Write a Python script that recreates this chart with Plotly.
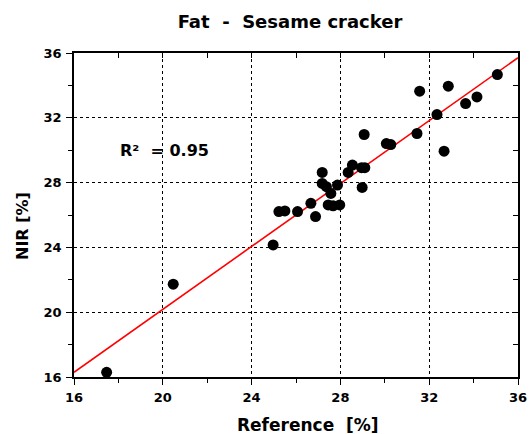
import plotly.graph_objects as go

reference = [17.47, 20.47, 24.97, 25.23, 25.50, 26.07, 26.67, 26.88, 27.18, 27.18,
             27.37, 27.57, 27.45, 27.67, 27.97, 27.87, 28.35, 28.54, 28.95, 29.10,
             28.98, 29.07, 30.07, 30.27, 31.45, 31.57, 32.35, 32.67, 32.86, 33.64,
             34.15, 35.07]
nir = [16.29, 21.73, 24.15, 26.21, 26.25, 26.21, 26.72, 25.90, 28.63, 27.95,
       27.75, 27.33, 26.62, 26.57, 26.62, 27.85, 28.63, 29.08, 28.92, 28.92,
       27.70, 30.97, 30.41, 30.35, 31.03, 33.64, 32.20, 29.94, 33.95, 32.88,
       33.29, 34.67]

fit_x = [16, 36]
fit_y = [16.29, 35.71]

title_text = "Fat\u00a0\u00a0-\u00a0\u00a0Sesame cracker"
x_title = "Reference\u00a0\u00a0[%]"
y_title = "NIR [%]"
r2_text = "R²\u00a0\u00a0= 0.95"
r2_pos = (18.0, 30.0)

axis_range = [16, 36]
major_step = 4
minor_step = 2

font_family = "DejaVu Sans, Verdana, sans-serif"
# body margin is removed by the post script, so the figure fills the window
W, H = 530, 434
ML, MR, MT, MB = 74, 12, 53, 57

def px_x(x):  # window pixel -> paper fraction (x)
    return (x - ML) / (W - ML - MR)

def px_y(y):  # window pixel -> paper fraction (y)
    return ((H - MB) - y) / (H - MT - MB)

fig = go.Figure()
fig.add_trace(go.Scatter(x=fit_x, y=fit_y, mode="lines",
                         line=dict(color="#ff0000", width=1.6), showlegend=False,
                         hoverinfo="skip"))
fig.add_trace(go.Scatter(x=reference, y=nir, mode="markers",
                         marker=dict(color="black", size=11), showlegend=False))
fig.add_trace(go.Scatter(x=[], y=[], xaxis="x2", yaxis="y2", showlegend=False))

axis_common = dict(
    range=axis_range, dtick=major_step, tick0=16, automargin=False,
    showline=True, linecolor="black", linewidth=1.5, mirror=True,
    ticks="outside", ticklen=6, tickwidth=1.2, tickcolor="black",
    showgrid=True, gridcolor="black", griddash="dot", gridwidth=1,
    zeroline=False,
    tickfont=dict(family=font_family, size=13, color="black", weight="bold"),
    minor=dict(dtick=minor_step, ticks="outside", ticklen=4, tickcolor="black",
               tickwidth=1.2, showgrid=False),
)

bold = dict(family=font_family, color="black", weight="bold")

fig.update_layout(
    width=W, height=H,
    margin=dict(l=ML, r=MR, t=MT, b=MB),
    plot_bgcolor="white", paper_bgcolor="white",
    title=dict(text=title_text, x=290 / W, xanchor="center", xref="container",
               y=1 - 22 / H, yanchor="middle", yref="container",
               font=dict(bold, size=18)),
    xaxis=dict(axis_common, ticklabelstandoff=2),
    yaxis=dict(axis_common, ticklabelstandoff=2),
    xaxis2=dict(overlaying="x", side="top", range=axis_range, dtick=minor_step, tick0=16,
                ticks="inside", ticklen=5, tickcolor="black", tickwidth=1.2, automargin=False,
                showticklabels=False, showgrid=False, zeroline=False, showline=False),
    yaxis2=dict(overlaying="y", side="right", range=axis_range, dtick=minor_step, tick0=16,
                ticks="inside", ticklen=5, tickcolor="black", tickwidth=1.2, automargin=False,
                showticklabels=False, showgrid=False, zeroline=False, showline=False),
    annotations=[
        dict(x=r2_pos[0], y=r2_pos[1], xref="x", yref="y", text=r2_text,
             showarrow=False, xanchor="left", yanchor="middle",
             font=dict(bold, size=16)),
        dict(x=px_x(308), y=px_y(425), xref="paper", yref="paper", text=x_title,
             showarrow=False, xanchor="center", yanchor="middle", font=dict(bold, size=17)),
        dict(x=px_x(23), y=px_y(226), xref="paper", yref="paper", text=y_title,
             showarrow=False, textangle=-90, xanchor="center", yanchor="middle",
             font=dict(bold, size=16)),
    ],
)

fig.write_html(
    "out.html",
    config={"displayModeBar": False},
    post_script="document.body.style.margin='0';"
                "document.documentElement.style.overflow='hidden';",
)
